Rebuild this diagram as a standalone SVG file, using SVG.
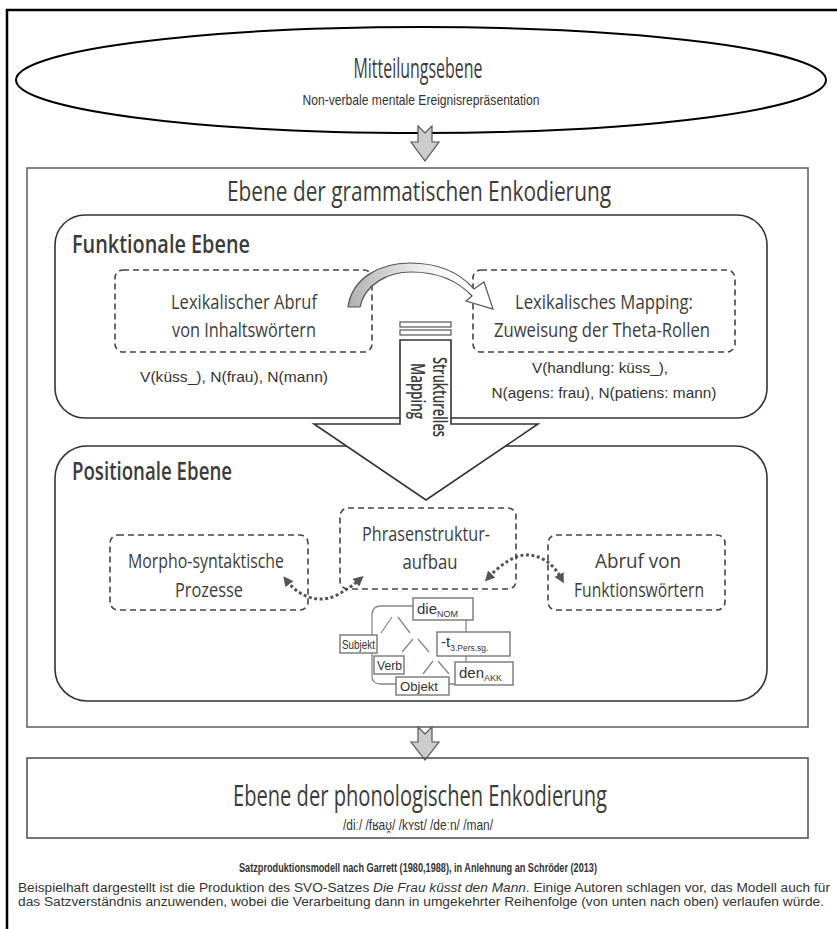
<svg xmlns="http://www.w3.org/2000/svg" width="837" height="929" viewBox="0 0 837 929">
<style>
.h{font-family:"Open Sans","DejaVu Sans",sans-serif;fill:#3c3c3c}
.s{font-family:"Liberation Sans",Arial,sans-serif;fill:#333}
.dash{fill:none;stroke:#444;stroke-width:1.6;stroke-dasharray:6,4}
.rbox{fill:none;stroke:#333;stroke-width:1.6}
.tb{fill:#fff;stroke:#777;stroke-width:1.4}
.tl{fill:none;stroke:#888;stroke-width:1.3}
.dot{fill:none;stroke:#555;stroke-width:3;stroke-dasharray:3,2.5}
.garrow{fill:#ccc;stroke:#555;stroke-width:1.2}
</style>
<defs>
<marker id="ah" viewBox="0 0 10 10" refX="4" refY="5" markerWidth="3.4" markerHeight="3.4" orient="auto-start-reverse"><path d="M0,0 L10,5 L0,10 z" fill="#555"/></marker>
<linearGradient id="cg" x1="0" y1="0" x2="1" y2="0"><stop offset="0" stop-color="#b0b0b0"/><stop offset="0.45" stop-color="#e8e8e8"/><stop offset="0.7" stop-color="#fff"/></linearGradient>
</defs>
<rect x="0" y="0" width="837" height="929" fill="#fff"/>
<path d="M840,10 H7 V932" fill="none" stroke="#000" stroke-width="2.5"/>

<g id="mitteilung">
<ellipse cx="421" cy="80" rx="405" ry="53" fill="none" stroke="#000" stroke-width="2"/>
<text class="h" x="418" y="78" font-size="27" text-anchor="middle" textLength="129" lengthAdjust="spacingAndGlyphs">Mitteilungsebene</text>
<text class="s" x="421" y="105" font-size="14.5" text-anchor="middle" textLength="237" lengthAdjust="spacingAndGlyphs">Non-verbale mentale Ereignisrepräsentation</text>
</g>

<g id="grammatisch">
<rect x="27" y="168" width="781" height="559" fill="none" stroke="#666" stroke-width="1.6"/>
<text class="h" x="419" y="201" font-size="28" text-anchor="middle" textLength="384" lengthAdjust="spacingAndGlyphs">Ebene der grammatischen Enkodierung</text>
</g>

<g id="funktional">
<rect class="rbox" x="55" y="215" width="712" height="203" rx="30"/>
<text class="h" x="72" y="253" font-size="26" font-weight="600" textLength="178" lengthAdjust="spacingAndGlyphs" fill="#333">Funktionale Ebene</text>
</g>

<g id="lexabruf">
<rect class="dash" x="115" y="270" width="257" height="82" rx="8"/>
<text class="h" x="244" y="309" font-size="19.5" text-anchor="middle" textLength="146" lengthAdjust="spacingAndGlyphs">Lexikalischer Abruf</text>
<text class="h" x="244" y="337" font-size="19.5" text-anchor="middle" textLength="144" lengthAdjust="spacingAndGlyphs">von Inhaltswörtern</text>
<text class="s" x="234" y="382" font-size="14" text-anchor="middle" textLength="188" lengthAdjust="spacingAndGlyphs">V(küss_), N(frau), N(mann)</text>
</g>

<g id="lexmapping">
<rect class="dash" x="473" y="270" width="262" height="82" rx="8"/>
<text class="h" x="604" y="309" font-size="19.5" text-anchor="middle" textLength="178" lengthAdjust="spacingAndGlyphs">Lexikalisches Mapping:</text>
<text class="h" x="602" y="337" font-size="19.5" text-anchor="middle" textLength="216" lengthAdjust="spacingAndGlyphs">Zuweisung der Theta-Rollen</text>
<text class="s" x="600" y="373" font-size="14" text-anchor="middle" textLength="136" lengthAdjust="spacingAndGlyphs">V(handlung: küss_),</text>
<text class="s" x="604" y="398" font-size="14" text-anchor="middle" textLength="225" lengthAdjust="spacingAndGlyphs">N(agens: frau), N(patiens: mann)</text>
</g>

<g id="positional">
<rect class="rbox" x="55" y="446" width="712" height="255" rx="32"/>
<text class="h" x="72" y="480" font-size="26" font-weight="600" textLength="160" lengthAdjust="spacingAndGlyphs" fill="#333">Positionale Ebene</text>
</g>

<g id="connectors">
<path class="garrow" d="M418,126 L425,133 L432,126 L432,142 L439,142 L425,161 L411,142 L418,142 Z"/>
<path class="garrow" d="M418,727 L425,734 L432,727 L432,742 L439,742 L425,760 L411,742 L418,742 Z"/>
<path d="M348,307 C352,278 380,263 410,263 C438,263 460,273 474,289 L484,282 L493,309 L466,301 L472,296 C458,281 437,272 411,272 C388,272 365,284 360,307 Z" fill="url(#cg)" stroke="#555" stroke-width="1.2"/>
<rect x="400" y="322" width="51" height="5" fill="#fff" stroke="#555" stroke-width="1.2"/>
<rect x="400" y="330" width="51" height="5" fill="#fff" stroke="#555" stroke-width="1.2"/>
<path d="M400,340 H451 V424 H538 L426,500 L314,424 H400 Z" fill="#fff" stroke="#333" stroke-width="1.6"/>
<text class="h" transform="translate(433,397) rotate(90)" font-size="19.5" font-weight="600" text-anchor="middle" textLength="80" lengthAdjust="spacingAndGlyphs" fill="#333">Strukturelles</text>
<text class="h" transform="translate(411,391) rotate(90)" font-size="19.5" font-weight="600" text-anchor="middle" textLength="56" lengthAdjust="spacingAndGlyphs" fill="#333">Mapping</text>
<path class="dot" d="M287,581 C300,598 320,603 335,596 C345,591 352,586 359,580" marker-start="url(#ah)" marker-end="url(#ah)"/>
<path class="dot" d="M489,577 C500,565 515,554 528,555 C545,556 555,567 561,578" marker-start="url(#ah)" marker-end="url(#ah)"/>
</g>

<g id="morpho">
<rect class="dash" x="110" y="535" width="198" height="75" rx="8"/>
<text class="h" x="206" y="568" font-size="19.5" text-anchor="middle" textLength="156" lengthAdjust="spacingAndGlyphs">Morpho-syntaktische</text>
<text class="h" x="209" y="597" font-size="19.5" text-anchor="middle" textLength="68" lengthAdjust="spacingAndGlyphs">Prozesse</text>
</g>

<g id="phrasen">
<rect class="dash" x="340" y="508" width="176" height="81" rx="8"/>
<text class="h" x="426" y="541" font-size="19.5" text-anchor="middle" textLength="128" lengthAdjust="spacingAndGlyphs">Phrasenstruktur-</text>
<text class="h" x="430" y="569" font-size="19.5" text-anchor="middle" textLength="55" lengthAdjust="spacingAndGlyphs">aufbau</text>
</g>

<g id="funktionswoerter">
<rect class="dash" x="548" y="535" width="177" height="75" rx="8"/>
<text class="h" x="638" y="568" font-size="19.5" text-anchor="middle" textLength="86" lengthAdjust="spacingAndGlyphs">Abruf von</text>
<text class="h" x="639" y="597" font-size="19.5" text-anchor="middle" textLength="130" lengthAdjust="spacingAndGlyphs">Funktionswörtern</text>
</g>

<g id="baum">
<path class="tl" d="M413,606 H381 Q372,606 372,615 V676 Q372,684 381,684 H396"/>
<path class="tl" d="M449,684 H455 M466,620 V632 M466,656 V662"/>
<path class="tl" d="M381,633 L392,617 M398,617 L410,633 M402,652 L413,639 M418,639 L429,652 M423,674 L433,661 M438,661 L449,674"/>
<rect class="tb" x="413" y="598" width="60" height="22"/>
<text class="s" x="417" y="614" font-size="15">die<tspan font-size="9" dy="3">NOM</tspan></text>
<rect class="tb" x="437" y="632" width="73" height="24"/>
<text class="s" x="441" y="647" font-size="15">-t<tspan font-size="8.5" dy="4">3.Pers.sg.</tspan></text>
<rect class="tb" x="455" y="662" width="58" height="23"/>
<text class="s" x="459" y="678" font-size="15">den<tspan font-size="9" dy="3">AKK</tspan></text>
<rect class="tb" x="340" y="635" width="37" height="18"/>
<text class="s" x="342" y="649" font-size="12.5" textLength="33" lengthAdjust="spacingAndGlyphs">Subjekt</text>
<rect class="tb" x="374" y="656" width="30" height="18"/>
<text class="s" x="377" y="670" font-size="12.5" textLength="25" lengthAdjust="spacingAndGlyphs">Verb</text>
<rect class="tb" x="396" y="677" width="53" height="18"/>
<text class="s" x="400" y="691" font-size="12.5" textLength="38" lengthAdjust="spacingAndGlyphs">Objekt</text>
</g>

<g id="phonologisch">
<rect x="27" y="758" width="781" height="80" fill="none" stroke="#555" stroke-width="1.6"/>
<text class="h" x="420" y="806" font-size="29" text-anchor="middle" textLength="374" lengthAdjust="spacingAndGlyphs">Ebene der phonologischen Enkodierung</text>
<text class="s" x="418" y="830" font-size="15" text-anchor="middle" textLength="150" lengthAdjust="spacingAndGlyphs">/diː/ /fʁaʊ̯/ /kʏst/ /deːn/ /man/</text>
</g>

<g id="legende">
<text class="s" x="418" y="872" font-size="13.5" font-weight="bold" text-anchor="middle" textLength="358" lengthAdjust="spacingAndGlyphs" fill="#111">Satzproduktionsmodell nach Garrett (1980,1988), in Anlehnung an Schröder (2013)</text>
<text class="s" x="18" y="892" font-size="12.5" textLength="812" lengthAdjust="spacingAndGlyphs" fill="#222">Beispielhaft dargestellt ist die Produktion des SVO-Satzes <tspan font-style="italic">Die Frau küsst den Mann</tspan>. Einige Autoren schlagen vor, das Modell auch für</text>
<text class="s" x="18" y="906" font-size="12.5" textLength="806" lengthAdjust="spacingAndGlyphs" fill="#222">das Satzverständnis anzuwenden, wobei die Verarbeitung dann in umgekehrter Reihenfolge (von unten nach oben) verlaufen würde.</text>
</g>
</svg>
